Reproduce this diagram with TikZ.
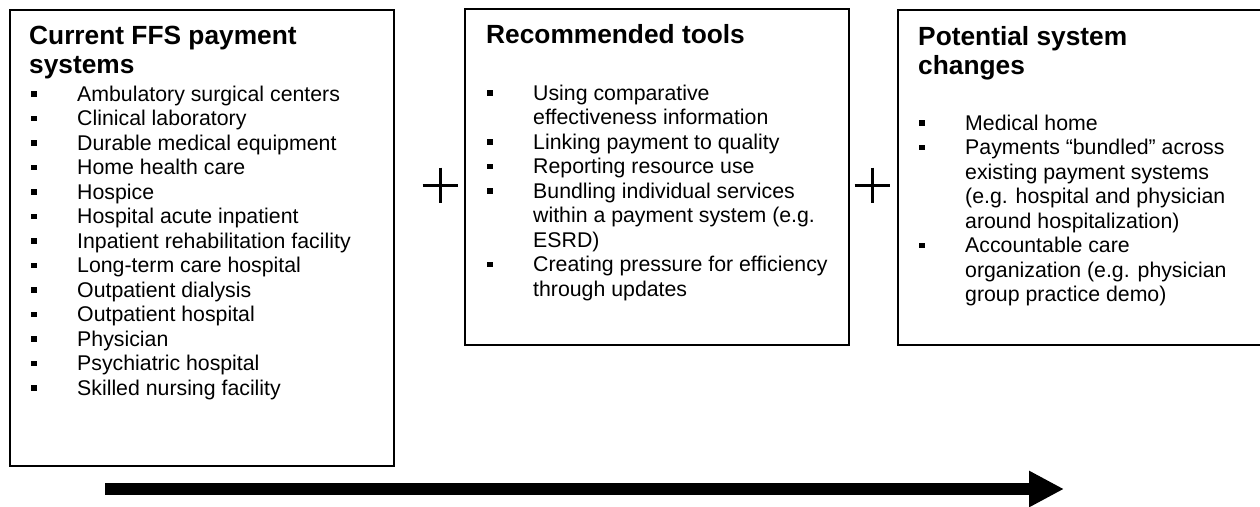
\documentclass[tikz,border=0pt]{standalone}
\usepackage{fontspec}
\setmainfont{Liberation Sans}
\usetikzlibrary{arrows.meta}
\newcommand\sqbullet{\makebox[46pt][l]{\raisebox{4.5pt}{\rule{5.5pt}{5.5pt}}}}
\newcommand\headfont{\fontsize{26.3}{28.5}\selectfont\bfseries}
\newcommand\listfont{\fontsize{21.3}{24.5}\selectfont}

\tikzset{
  panel/.style={draw, line width=2pt, rectangle, anchor=north west, inner sep=0pt},
  heading/.style={anchor=base west, inner sep=0pt, align=left, font=\headfont},
  itemlist/.style={anchor=base west, inner sep=0pt, font=\listfont},
  plus/.style={line width=3pt},
}

\begin{document}
\begin{tikzpicture}[x=1pt, y=-1pt]
  \useasboundingbox (0,0) rectangle (1260,506);
  % the three boxes
  \node[panel, minimum width=384pt, minimum height=456pt] (curbox) at (9,9) {};
  \node[panel, minimum width=384pt, minimum height=336pt] (toolbox) at (464,8) {};
  \node[panel, minimum width=373pt, minimum height=335pt] (chgbox) at (897,9) {};
  % headings (base = last line)
  \node[heading] (curhead) at (29,73) {Current FFS payment\\systems};
  \node[heading] (toolhead) at (486,43) {Recommended tools};
  \node[heading] (chghead) at (918,74) {Potential system\\changes};
  % lists
  \node[itemlist] (curlist) at (31,101) {\begin{tabular}[t]{@{}l@{}l@{}}
    \sqbullet & Ambulatory surgical centers\\
    \sqbullet & Clinical laboratory\\
    \sqbullet & Durable medical equipment\\
    \sqbullet & Home health care\\
    \sqbullet & Hospice\\
    \sqbullet & Hospital acute inpatient\\
    \sqbullet & Inpatient rehabilitation facility\\
    \sqbullet & Long-term care hospital\\
    \sqbullet & Outpatient dialysis\\
    \sqbullet & Outpatient hospital\\
    \sqbullet & Physician\\
    \sqbullet & Psychiatric hospital\\
    \sqbullet & Skilled nursing facility
  \end{tabular}};
  \node[itemlist] (toollist) at (487,100) {\begin{tabular}[t]{@{}l@{}l@{}}
    \sqbullet & Using comparative\\
              & effectiveness information\\
    \sqbullet & Linking payment to quality\\
    \sqbullet & Reporting resource use\\
    \sqbullet & Bundling individual services\\
              & within a payment system (e.g.\\
              & ESRD)\\
    \sqbullet & Creating pressure for efficiency\\
              & through updates
  \end{tabular}};
  \node[itemlist] (chglist) at (919,130) {\begin{tabular}[t]{@{}l@{}l@{}}
    \sqbullet & Medical home\\
    \sqbullet & Payments “bundled” across\\
              & existing payment systems\\
              & (e.g. hospital and physician\\
              & around hospitalization)\\
    \sqbullet & Accountable care\\
              & organization (e.g. physician\\
              & group practice demo)
  \end{tabular}};
  % plus signs between the boxes
  \draw[plus] (422.5,185) -- (457.5,185) (440,167.5) -- (440,202.5);
  \draw[plus] (854.5,185) -- (889.5,185) (872,167.5) -- (872,202.5);
  % big arrow
  \coordinate (arrS) at (105,489);
  \coordinate (arrE) at (1064,489);
  \draw[line width=12pt, -{Triangle[length=35pt, width=34pt]}] (arrS) -- (arrE);
\end{tikzpicture}
\end{document}
